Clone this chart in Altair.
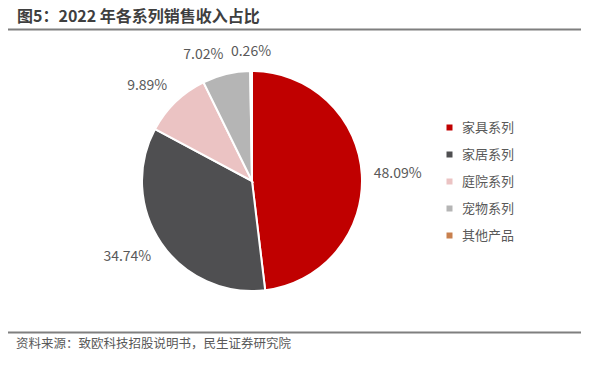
import altair as alt
import pandas as pd
import numpy as np

categories = ["家具系列", "家居系列", "庭院系列", "宠物系列", "其他产品"]
shares = [48.09, 34.74, 9.89, 7.02, 0.26]
labels = ["48.09%", "34.74%", "9.89%", "7.02%", "0.26%"]
colors = ["#C00000", "#4F4F51", "#EBC3C3", "#B5B5B5", "#C8804E"]
title_text = "图5：2022 年各系列销售收入占比"
source_text = "资料来源：致欧科技招股说明书，民生证券研究院"

FONT = "Noto Sans CJK SC"
TXT = "#595959"

df = pd.DataFrame({"cat": categories, "share": shares, "label": labels, "order": list(range(len(categories)))})
total = df["share"].sum()
cum = df["share"].cumsum()
df["mid"] = (cum - df["share"] / 2) / total * 2 * np.pi
s = np.sin(df["mid"])
c = np.cos(df["mid"])
df["align"] = np.where(s > 0.1, "left", np.where(s < -0.1, "right", "center"))
df["baseline"] = np.where(c > 0.5, "bottom", np.where(c < -0.5, "top", "middle"))

CX, CY, R, LR = 244, 173, 110, 122

pie = alt.Chart(df).mark_arc(outerRadius=R, stroke="white", strokeWidth=2).encode(
    theta=alt.Theta("share:Q", stack=True),
    order=alt.Order("order:Q"),
    color=alt.Color(
        "cat:N",
        scale=alt.Scale(domain=categories, range=colors),
        sort=categories,
        legend=alt.Legend(
            title=None,
            orient="none",
            legendX=435,
            legendY=113,
            symbolType="square",
            symbolSize=36,
            symbolStrokeWidth=0,
            labelFont=FONT,
            labelFontSize=13,
            labelColor=TXT,
            labelOffset=6,
            rowPadding=13,
        ),
    ),
    x=alt.value(CX),
    y=alt.value(CY),
)

layers = [pie]
for (a, b), g in df.groupby(["align", "baseline"]):
    layers.append(
        alt.Chart(g).mark_text(align=a, baseline=b, radius=LR, font=FONT, fontSize=14, color=TXT).encode(
            theta=alt.Theta("mid:Q", scale=None, stack=None),
            text="label:N",
            x=alt.value(CX),
            y=alt.value(CY),
        )
    )

one = pd.DataFrame({"t": [title_text], "s": [source_text]})
title = alt.Chart(one).mark_text(align="left", baseline="middle", font=FONT, fontSize=16, fontWeight="bold", color="#3F3F3F").encode(
    text="t:N", x=alt.value(9), y=alt.value(9)
)
source = alt.Chart(one).mark_text(align="left", baseline="middle", font=FONT, fontSize=12.5, color=TXT).encode(
    text="s:N", x=alt.value(8), y=alt.value(336)
)
rule_top = alt.Chart(one).mark_rule(color="#7F7F7F", strokeWidth=2).encode(
    x=alt.value(0), x2=alt.value(573), y=alt.value(21.5)
)
rule_bot = alt.Chart(one).mark_rule(color="#7F7F7F", strokeWidth=2).encode(
    x=alt.value(0), x2=alt.value(573), y=alt.value(324.5)
)

chart = alt.layer(*layers, title, source, rule_top, rule_bot).properties(
    width=586, height=350, autosize=alt.AutoSizeParams(type="none"), padding=0, background="white"
).configure_view(stroke=None)

chart.save("out.html", embed_options={"renderer": "svg", "actions": False})
